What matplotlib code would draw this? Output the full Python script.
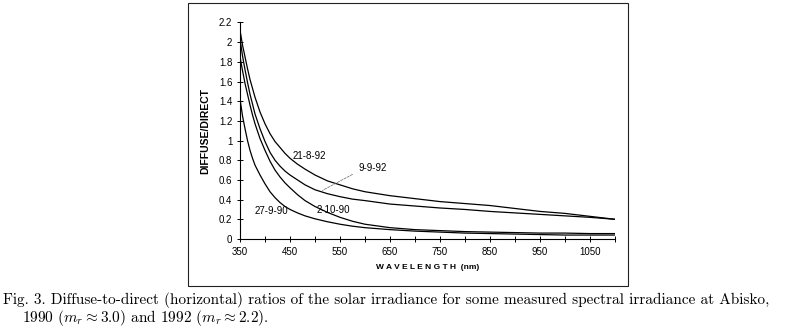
import matplotlib
matplotlib.use("Agg")
import matplotlib.pyplot as plt
from matplotlib.patches import Rectangle

# wavelength grid (nm) and diffuse/direct ratios
wavelength = [350, 355, 360, 365, 370, 375, 380, 390, 400, 410, 420, 430, 440, 450,
              465, 480, 500, 525, 550, 575, 600, 650, 700, 750, 800, 850, 900, 950,
              1000, 1050, 1100]

ratio_21_8_92 = [2.12, 1.97, 1.85, 1.73, 1.62, 1.53, 1.44, 1.29, 1.17, 1.07, 0.99, 0.93,
                 0.87, 0.82, 0.76, 0.71, 0.65, 0.59, 0.55, 0.51, 0.48, 0.44, 0.41, 0.38,
                 0.36, 0.34, 0.31, 0.28, 0.26, 0.23, 0.20]
ratio_9_9_92 = [2.03, 1.86, 1.72, 1.59, 1.47, 1.37, 1.27, 1.12, 0.99, 0.88, 0.80, 0.74,
                0.69, 0.65, 0.60, 0.55, 0.50, 0.46, 0.43, 0.405, 0.39, 0.355, 0.335, 0.315,
                0.30, 0.28, 0.265, 0.25, 0.235, 0.22, 0.20]
ratio_2_10_90 = [1.85, 1.71, 1.58, 1.47, 1.36, 1.26, 1.17, 1.02, 0.90, 0.79, 0.70, 0.63,
                 0.57, 0.52, 0.45, 0.39, 0.33, 0.27, 0.22, 0.18, 0.15, 0.115, 0.095, 0.085,
                 0.075, 0.07, 0.065, 0.06, 0.06, 0.055, 0.055]
ratio_27_9_90 = [1.42, 1.25, 1.12, 1.00, 0.90, 0.82, 0.75, 0.65, 0.56, 0.48, 0.42, 0.37,
                 0.33, 0.30, 0.265, 0.235, 0.205, 0.175, 0.15, 0.13, 0.115, 0.095, 0.08,
                 0.07, 0.06, 0.055, 0.05, 0.045, 0.04, 0.04, 0.04]

x_ticks = list(range(350, 1101, 50))
x_tick_labels = ["350", "", "450", "", "550", "", "650", "", "750", "", "850", "",
                 "950", "", "1050", ""]
y_ticks = [0, 0.2, 0.4, 0.6, 0.8, 1.0, 1.2, 1.4, 1.6, 1.8, 2.0, 2.2]
y_tick_labels = ["0", "0.2", "0.4", "0.6", "0.8", "1", "1.2", "1.4", "1.6", "1.8", "2", "2.2"]

# curve labels: text, x (nm), y (ratio)
curve_labels = [("21-8-92", 456, 0.84), ("9-9-92", 586, 0.72),
                ("2-10-90", 503, 0.295), ("27-9-90", 380, 0.28)]

caption_1 = ("Fig. 3. Diffuse-to-direct (horizontal) ratios of the solar irradiance "
             "for some measured spectral irradiance at Abisko,")
caption_2 = r"1990 ($m_r \approx 3.0$) and 1992 ($m_r \approx 2.2$)."

plt.rcParams["font.family"] = ["Liberation Sans", "DejaVu Sans"]
plt.rcParams["mathtext.fontset"] = "cm"

fig = plt.figure(figsize=(8.12, 3.35), dpi=100)
ax = fig.add_axes([0.2956, 0.2866, 0.4618, 0.6463])

for series in (ratio_21_8_92, ratio_9_9_92, ratio_2_10_90, ratio_27_9_90):
    ax.plot(wavelength, series, color="black", linewidth=0.9)

ax.set_xlim(350, 1100)
ax.set_ylim(0, 2.2)
ax.set_xticks(x_ticks)
ax.set_xticklabels(x_tick_labels)
ax.set_yticks(y_ticks)
ax.set_yticklabels(y_tick_labels)
ax.tick_params(direction="inout", length=5, width=0.7, labelsize=7, pad=3)

for side in ("top", "right"):
    ax.spines[side].set_visible(False)
for side in ("left", "bottom"):
    ax.spines[side].set_linewidth(0.8)

ax.set_ylabel("DIFFUSE/DIRECT", fontsize=7.5, fontweight="bold", labelpad=6)
ax.set_xlabel("W A V E L E N G T H  (nm)", fontsize=6, fontweight="bold", labelpad=5)

for text, x, y in curve_labels:
    ax.text(x, y, text, fontsize=7, ha="left", va="center")

ax.annotate("", xy=(510, 0.48), xytext=(580, 0.67),
            arrowprops=dict(arrowstyle="-", linestyle="--", linewidth=0.5, color="0.4"))

# chart frame
fig.add_artist(Rectangle((0.2315, 0.1463), 0.5419, 0.8447, transform=fig.transFigure,
                         fill=False, linewidth=0.8, edgecolor="#222222"))

fig.text(0.004, 0.092, caption_1, fontsize=11, family="cmr10", va="baseline")
fig.text(0.027, 0.040, caption_2, fontsize=11, family="cmr10", va="baseline")

fig.savefig("out.png", dpi=100)
